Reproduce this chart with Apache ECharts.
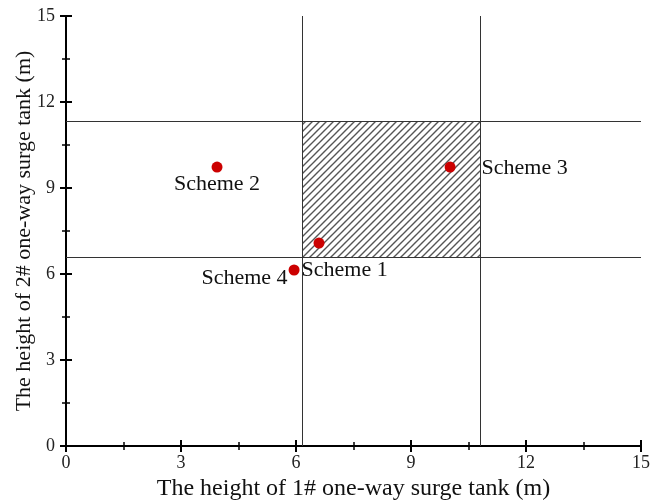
<!DOCTYPE html>
<html><head><meta charset="utf-8">
<script src="https://cdn.jsdelivr.net/npm/echarts@6/dist/echarts.min.js"></script>
<style>html,body{margin:0;padding:0;background:#fff}#c{width:650px;height:500px}</style>
</head><body><div id="c"></div>
<script>
const schemeNames = ['Scheme 1', 'Scheme 2', 'Scheme 3', 'Scheme 4'];
const schemeX = [6.60, 3.94, 10.02, 5.95];
const schemeY = [7.08, 9.73, 9.73, 6.14];
const verticalLines = [6.16, 10.8];
const horizontalLines = [6.59, 11.34];
const feasibleX = [6.16, 10.8];
const feasibleY = [6.59, 11.34];
const axisTicks = [0, 3, 6, 9, 12, 15];

const labelStyles = [
  {position: 'right', offset: [-28, 27]},
  {position: 'bottom', offset: [0, -4]},
  {position: 'right', offset: [21, 1]},
  {position: 'left', offset: [4, 8]}
];

const pc = document.createElement('canvas');
pc.width = 7; pc.height = 7;
const g = pc.getContext('2d');
g.fillStyle = '#fff'; g.fillRect(0,0,7,7);
g.strokeStyle = '#555'; g.lineWidth = 1.4;
g.beginPath();
g.moveTo(-1, 8); g.lineTo(8, -1);
g.moveTo(-1, 1); g.lineTo(1, -1);
g.moveTo(6, 8); g.lineTo(8, 6);
g.stroke();

const font = '"Liberation Serif", "Times New Roman", serif';
const chart = echarts.init(document.getElementById('c'));

const axisCommon = {
  min: axisTicks[0], max: axisTicks[axisTicks.length-1], interval: axisTicks[1]-axisTicks[0],
  axisLine: {show: true, lineStyle: {color: '#000', width: 2}},
  axisTick: {show: true, inside: true, length: 6, lineStyle: {color: '#000', width: 2}},
  minorTick: {show: true, splitNumber: 2, length: 4, lineStyle: {color: '#000', width: 1.5}},
  splitLine: {show: false}
};

chart.setOption({
  animation: false,
  backgroundColor: '#fff',
  grid: {left: 66, right: 9, top: 16, bottom: 54, containLabel: false, outerBoundsMode: 'none'},
  xAxis: [
    Object.assign({}, axisCommon, {type: 'value', position: 'bottom',
      name: 'The height of 1# one-way surge tank (m)', nameLocation: 'middle', nameGap: 31,
      nameTextStyle: {fontFamily: font, fontSize: 24, color: '#111'},
      axisLabel: {fontFamily: font, fontSize: 18, color: '#222', margin: 8}}),
    Object.assign({}, axisCommon, {type: 'value', position: 'top', axisLabel: {show: false}})
  ],
  yAxis: [
    Object.assign({}, axisCommon, {type: 'value', position: 'left',
      name: 'The height of 2# one-way surge tank (m)', nameLocation: 'middle', nameGap: 31,
      nameMoveOverlap: false,
      nameTextStyle: {fontFamily: font, fontSize: 22, color: '#111'},
      axisLabel: {fontFamily: font, fontSize: 18, color: '#222', margin: 11}}),
    Object.assign({}, axisCommon, {type: 'value', position: 'right', axisLabel: {show: false}})
  ],
  series: [
    {
      type: 'scatter', xAxisIndex: 0, yAxisIndex: 0, data: [], silent: true,
      markArea: {
        silent: true,
        itemStyle: {color: {image: pc, repeat: 'repeat'}, opacity: 1},
        data: [[{xAxis: feasibleX[0], yAxis: feasibleY[0]}, {xAxis: feasibleX[1], yAxis: feasibleY[1]}]]
      },
      markLine: {
        silent: true, symbol: ['none', 'none'], label: {show: false},
        lineStyle: {color: '#333', width: 1, type: 'solid'},
        data: verticalLines.map(v => ({xAxis: v})).concat(horizontalLines.map(v => ({yAxis: v})))
      }
    },
    {
      type: 'scatter', xAxisIndex: 0, yAxisIndex: 0, symbolSize: 11, z: 5,
      itemStyle: {color: '#cc0000', opacity: 1},
      label: {show: true, fontFamily: font, fontSize: 22, color: '#111',
        formatter: p => p.name},
      data: schemeNames.map((n, i) => ({name: n, value: [schemeX[i], schemeY[i]], label: labelStyles[i]}))
    }
  ]
});
</script></body></html>
